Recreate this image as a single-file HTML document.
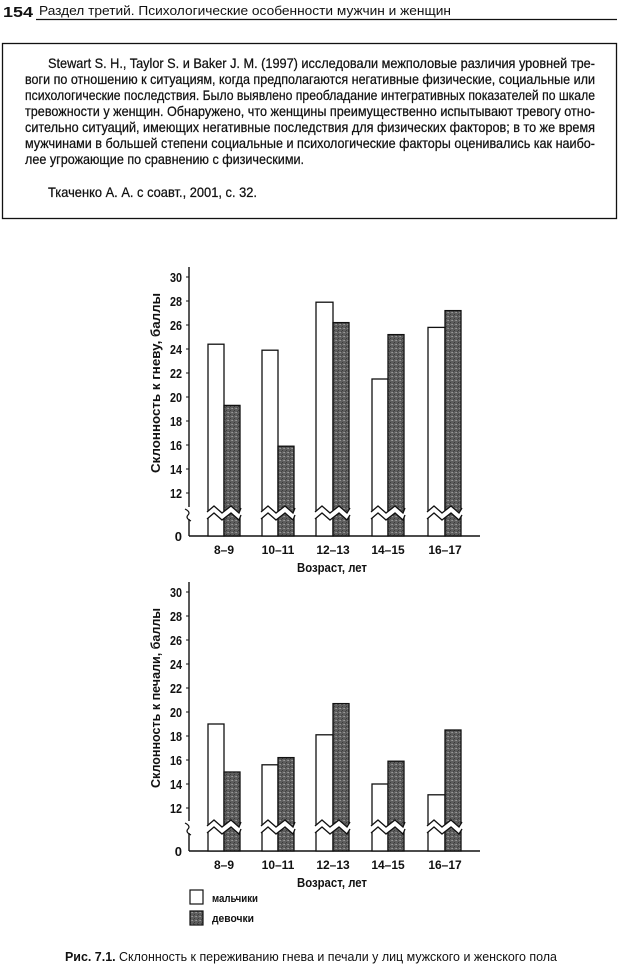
<!DOCTYPE html>
<html><head><meta charset="utf-8"><style>
html,body{margin:0;padding:0;background:#fff;}
svg{display:block;}
text{font-family:"Liberation Sans",sans-serif;fill:#111;}
</style></head><body>
<svg id="s" width="620" height="968" viewBox="0 0 620 968" xmlns="http://www.w3.org/2000/svg">
<defs>
<pattern id="g" width="4" height="4" patternUnits="userSpaceOnUse">
<rect width="4" height="4" fill="#5e5e5e"/><rect x="0" y="0" width="1" height="1" fill="#999"/><rect x="2" y="2" width="1" height="1" fill="#3a3a3a"/><rect x="3" y="0" width="1" height="1" fill="#888"/><rect x="1" y="3" width="1" height="1" fill="#444"/>
</pattern>
</defs>
<text x="3" y="17" font-size="15" font-weight="bold" textLength="30" lengthAdjust="spacingAndGlyphs">154</text>
<text x="39" y="15" font-size="13" textLength="412" lengthAdjust="spacingAndGlyphs">Раздел третий. Психологические особенности мужчин и женщин</text>
<line x1="36" y1="19.5" x2="617" y2="19.5" stroke="#111" stroke-width="1.3"/>
<rect x="2.5" y="43.5" width="614" height="175" fill="none" stroke="#111" stroke-width="1.3"/>
<g font-size="14" stroke="#111" stroke-width="0.25">
<text x="48" y="68" textLength="547" lengthAdjust="spacingAndGlyphs">Stewart S. H., Taylor S. и Baker J. M. (1997) исследовали межполовые различия уровней тре-</text>
<text x="25" y="84" textLength="570" lengthAdjust="spacingAndGlyphs">воги по отношению к ситуациям, когда предполагаются негативные физические, социальные или</text>
<text x="25" y="100" textLength="570" lengthAdjust="spacingAndGlyphs">психологические последствия. Было выявлено преобладание интегративных показателей по шкале</text>
<text x="25" y="116" textLength="570" lengthAdjust="spacingAndGlyphs">тревожности у женщин. Обнаружено, что женщины преимущественно испытывают тревогу отно-</text>
<text x="25" y="132" textLength="570" lengthAdjust="spacingAndGlyphs">сительно ситуаций, имеющих негативные последствия для физических факторов; в то же время</text>
<text x="25" y="148" textLength="570" lengthAdjust="spacingAndGlyphs">мужчинами в большей степени социальные и психологические факторы оценивались как наибо-</text>
<text x="25" y="164" textLength="279" lengthAdjust="spacingAndGlyphs">лее угрожающие по сравнению с физическими.</text>
<text x="48" y="197" textLength="209" lengthAdjust="spacingAndGlyphs">Ткаченко А. А. с соавт., 2001, с. 32.</text>
</g>
<text x="311" y="961" font-size="13" text-anchor="middle" textLength="492" lengthAdjust="spacingAndGlyphs"><tspan font-weight="bold">Рис. 7.1.</tspan> Склонность к переживанию гнева и печали у лиц мужского и женского пола</text>
<rect x="190" y="890" width="13" height="14" fill="#fff" stroke="#111" stroke-width="1.2"/>
<rect x="190" y="911" width="13" height="14" fill="url(#g)" stroke="#111" stroke-width="1.2"/>
<text x="212" y="902" font-size="11" font-weight="bold" textLength="46" lengthAdjust="spacingAndGlyphs">мальчики</text>
<text x="212" y="922" font-size="11" font-weight="bold" textLength="42" lengthAdjust="spacingAndGlyphs">девочки</text>
</svg>
<script>
const s=document.getElementById('s'),NS='http://www.w3.org/2000/svg';
function el(t,a,txt){const e=document.createElementNS(NS,t);for(const k in a)e.setAttribute(k,a[k]);if(txt)e.textContent=txt;s.appendChild(e);return e;}
const gx=[[208,224,240],[262,278,294],[316,333,349],[372,388,404],[428,445,461]];
const labs=['8–9','10–11','12–13','14–15','16–17'];
function chart(y12,base,brk,vals,title,cy){
 const Y=v=>y12-(v-12)*12;
 el('line',{x1:189,y1:y12-226,x2:189,y2:brk-3,stroke:'#111','stroke-width':1.4});
 el('line',{x1:189,y1:brk+9,x2:189,y2:base,stroke:'#111','stroke-width':1.4});
 el('path',{d:`M185 ${brk-1} q6 3 3 6 q-3 3 3 6`,fill:'none',stroke:'#111','stroke-width':1.2});
 el('line',{x1:189,y1:base,x2:480,y2:base,stroke:'#111','stroke-width':1.4});
 for(let v=12;v<=30;v+=2){el('line',{x1:186,y1:Y(v),x2:189,y2:Y(v),stroke:'#111'});
  el('text',{x:182,y:Y(v)+5,'font-size':13,'font-weight':'bold','text-anchor':'end',textLength:12,lengthAdjust:'spacingAndGlyphs'},String(v));}
 el('text',{x:182,y:base+5,'font-size':13,'font-weight':'bold','text-anchor':'end'},'0');
 gx.forEach((g,i)=>{
  el('rect',{x:g[0],y:Y(vals[i][0]),width:g[1]-g[0],height:base-Y(vals[i][0]),fill:'#fff',stroke:'#111','stroke-width':1.3});
  el('rect',{x:g[1],y:Y(vals[i][1]),width:g[2]-g[1],height:base-Y(vals[i][1]),fill:'url(#g)',stroke:'#111','stroke-width':1.3});
  const x0=g[0]-1,x2=g[2]+1,y=brk;
  const top=`M${x0} ${y+2} L${x0+7} ${y-4} L${x0+15} ${y+3} L${x0+24} ${y-4} L${x0+32} ${y+3} L${x2} ${y-2}`;
  const bot=`L${x2} ${y+5} L${x0+32} ${y+10} L${x0+24} ${y+3} L${x0+15} ${y+10} L${x0+7} ${y+3} L${x0} ${y+9} Z`;
  el('path',{d:top+' '+bot,fill:'#fff',stroke:'none'});
  el('path',{d:top,fill:'none',stroke:'#111','stroke-width':1.3});
  el('path',{d:`M${x2} ${y+5} L${x0+32} ${y+10} L${x0+24} ${y+3} L${x0+15} ${y+10} L${x0+7} ${y+3} L${x0} ${y+9}`,fill:'none',stroke:'#111','stroke-width':1.3});
  el('text',{x:g[1],y:base+18,'font-size':12,'font-weight':'bold','text-anchor':'middle'},labs[i]);
 });
 el('text',{x:332,y:base+36,'font-size':13,'font-weight':'bold','text-anchor':'middle',textLength:70,lengthAdjust:'spacingAndGlyphs'},'Возраст, лет');
 el('text',{x:0,y:0,'font-size':13,'font-weight':'bold','text-anchor':'middle',transform:`translate(160 ${cy}) rotate(-90)`,textLength:180,lengthAdjust:'spacingAndGlyphs'},title);
}
chart(493,536,510,[[24.4,19.3],[23.9,15.9],[27.9,26.2],[21.5,25.2],[25.8,27.2]],'Склонность к гневу, баллы',383);
chart(808,851,824,[[19,15],[15.6,16.2],[18.1,20.7],[14,15.9],[13.1,18.5]],'Склонность к печали, баллы',698);
</script>
</body></html>
